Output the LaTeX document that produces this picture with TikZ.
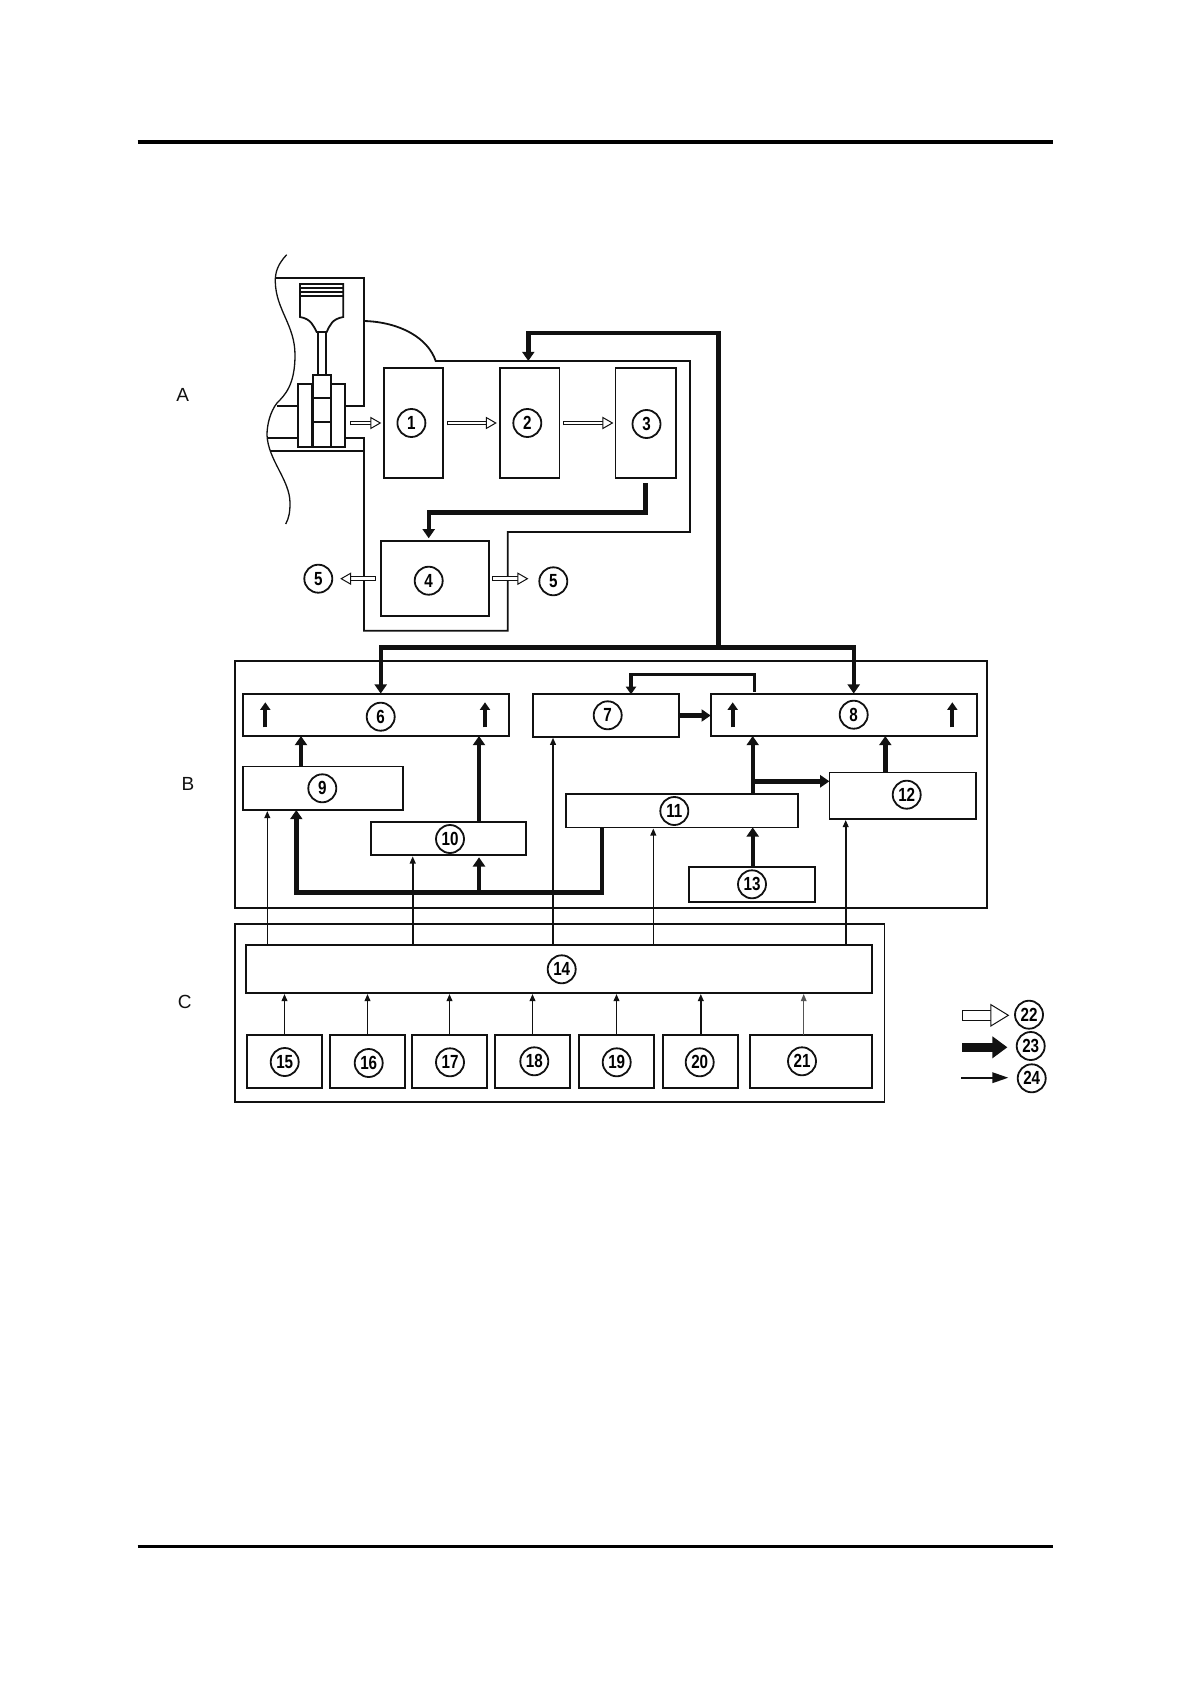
\documentclass[tikz,border=0pt]{standalone}
\usepackage{fontspec}
\setmainfont{Liberation Sans}
\newfontfamily\chiffres[FakeStretch=0.8]{Liberation Sans Bold}
\usepackage{tikz}
\usetikzlibrary{positioning,arrows.meta,calc}
\definecolor{noir}{HTML}{111111}
\definecolor{grisFin}{HTML}{555555}
\tikzset{
  bloc/.style={
    rectangle, draw=noir, line width=0.9pt, fill=white,
    inner sep=0pt, outer sep=0pt},
  cadre/.style={bloc, fill=none},
  rond/.style={
    circle, draw=noir, line width=0.9pt, fill=white, minimum size=14pt,
    inner sep=0pt, font=\chiffres\fontsize{9.5}{9.5}\selectfont},
  lettre/.style={font=\fontsize{9.5}{10}\selectfont, color=noir},
  trait/.style={draw=noir, line width=0.9pt},
  fin/.style={-{Triangle[length=3.6pt,width=2.9pt]}, draw=noir, line width=0.8pt, shorten >=0.5pt},
  finGris/.style={fin, draw=grisFin, line width=0.5pt},
  moyen/.style={-{Triangle[length=3.8pt,width=5pt]}, draw=noir, line width=1.7pt},
  repere/.style={moyen, line width=2pt},
  epais/.style={-{Triangle[length=4.6pt,width=6pt]}, draw=noir, line width=2.2pt},
  creuse/.style={{Bar[width=2.4pt,line width=0.5pt]}-{Triangle[open,length=5.5pt,width=6.2pt,line width=0.5pt,fill=white]},
    draw=noir, line width=0.5pt, double=white, double distance=1.4pt}
}
\begin{document}
\begin{tikzpicture}[x=0.5pt,y=-0.5pt]

  \useasboundingbox (0,0) rectangle (1190,1684);
  \draw[line width=1.8pt, draw=black] (137.5,142.3) -- (1052.5,142.3);
  \draw[line width=1.8pt, draw=black] (137.5,1546.6) -- (1052.5,1546.6);

  % --- Les trois zones
  \node[lettre] (LA) at (182.6,395) {A};
  \node[lettre] (LB) at (188,784) {B};
  \node[lettre] (LC) at (184.7,1002) {C};
  \node[cadre, minimum width=375.8pt, minimum height=123.8pt] (PB) at (610.8,784.5) {};
  \node[cadre, minimum width=324.7pt, minimum height=89.3pt] (PC) at (559.7,1013) {};

  % --- Moteur
  \draw[line width=0.65pt, draw=noir] (286.7,254.7) .. controls (278,264) and (275,272) .. (275.3,282)
        .. controls (276,310) and (295,325) .. (295,355) .. controls (295,385) and (285,395) .. (277,403)
        .. controls (270,412) and (267,425) .. (267,435) .. controls (268,460) and (290,480) .. (290,503)
        .. controls (290,512) and (289,518) .. (285.7,524);
  \draw[trait] (275.5,278) -- (364,278) -- (364,405.7) -- (345,405.7);
  \draw[trait] (277,405.7) -- (297.7,405.7);
  \draw[trait] (268,438) -- (297.7,438);
  \draw[trait] (270,450.7) -- (364,450.7);
  \draw[trait] (345,438) -- (364,438) -- (364,630.7) -- (507.7,630.7) -- (507.7,532)
        -- (690,532) -- (690,361) -- (435.7,361) .. controls (428,338) and (400,322) .. (364,321);
  \draw[trait] (300,284) -- (343.3,284) -- (343.3,317) .. controls (332,319) and (330,325) .. (326.7,332)
        -- (316.7,332) .. controls (313,325) and (311,319) .. (300,317) -- cycle;
  \draw[trait] (300,288) -- (343.3,288);
  \draw[trait] (300,292) -- (343.3,292);
  \draw[trait] (300,296) -- (343.3,296);
  \draw[trait] (317.7,332) -- (317.7,375);
  \draw[trait] (326,332) -- (326,375);
  \draw[trait] (312.7,375) rectangle (331,446.7);
  \draw[trait] (312.7,398.3) -- (331,398.3);
  \draw[trait] (312.7,422.3) -- (331,422.3);
  \draw[trait] (297.7,383.7) rectangle (312.3,446.7);
  \node[cadre, minimum width=7pt, minimum height=31.5pt] (V) at (338,415.2) {};

  % --- Rang A
  \node[bloc, minimum width=29.8pt, minimum height=55.3pt] (B1) at (413.5,423) {};
  \node[bloc, minimum width=29.8pt, minimum height=55.3pt] (B2) at (529.6,423) {};
  \node[bloc, minimum width=30.1pt, minimum height=55.3pt] (B3) at (645.5,423) {};
  \node[bloc, minimum width=54pt, minimum height=37.4pt] (B4) at (435,578.7) {};
  \node[rond] (N1) at (411.4,423) {1};
  \node[rond] (N2) at (527.3,423) {2};
  \node[rond] (N3) at (646.5,424) {3};
  \node[rond] (N4) at (428.7,580.7) {4};
  \node[rond] (N5a) at (318.3,578.7) {5};
  \node[rond] (N5b) at (553.3,581.3) {5};

  % --- Rang B
  \node[bloc, minimum width=133.3pt, minimum height=21.2pt] (B6) at (376,714.8) {};
  \node[bloc, minimum width=73pt, minimum height=21.2pt] (B7) at (606.3,715.5) {};
  \node[bloc, minimum width=133pt, minimum height=21.2pt] (B8) at (843.7,714.8) {};
  \node[bloc, minimum width=80.3pt, minimum height=21.8pt] (B9) at (323,788.2) {};
  \node[bloc, minimum width=77.6pt, minimum height=16.8pt] (B10) at (448.3,838.5) {};
  \node[bloc, minimum width=115.8pt, minimum height=16.7pt] (B11) at (681.8,810.7) {};
  \node[bloc, minimum width=73.3pt, minimum height=23.3pt] (B12) at (902.7,795.7) {};
  \node[bloc, minimum width=63pt, minimum height=17.2pt] (B13) at (752,884.5) {};
  \node[rond] (N6) at (380.7,716.7) {6};
  \node[rond] (N7) at (607.7,715.3) {7};
  \node[rond] (N8) at (853.7,714.7) {8};
  \node[rond] (N9) at (322.3,788.3) {9};
  \node[rond] (N10) at (450,839) {10};
  \node[rond] (N11) at (674.3,811) {11};
  \node[rond] (N12) at (906.7,794.7) {12};
  \node[rond] (N13) at (752,884.3) {13};

  % --- Rang C
  \node[bloc, minimum width=313pt, minimum height=24.2pt] (B14) at (559.3,968.8) {};
  \node[bloc, minimum width=37.5pt, minimum height=26.7pt] (B15) at (284.5,1061.3) {};
  \node[bloc, minimum width=37.5pt, minimum height=26.7pt] (B16) at (367.5,1061.3) {};
  \node[bloc, minimum width=37.5pt, minimum height=26.7pt] (B17) at (449.5,1061.3) {};
  \node[bloc, minimum width=37.5pt, minimum height=26.7pt] (B18) at (532.5,1061.3) {};
  \node[bloc, minimum width=37.5pt, minimum height=26.7pt] (B19) at (616.5,1061.3) {};
  \node[bloc, minimum width=37.5pt, minimum height=26.7pt] (B20) at (700.8,1061.3) {};
  \node[bloc, minimum width=61.3pt, minimum height=26.7pt] (B21) at (811,1061.3) {};
  \node[rond] (N14) at (561.7,969.3) {14};
  \node[rond] (N15) at (284.7,1062) {15};
  \node[rond] (N16) at (368.7,1063) {16};
  \node[rond] (N17) at (450,1062.3) {17};
  \node[rond] (N18) at (534.3,1061.3) {18};
  \node[rond] (N19) at (616.7,1062.3) {19};
  \node[rond] (N20) at (699.7,1062.3) {20};
  \node[rond] (N21) at (802,1061.3) {21};

  % --- Legende
  \node[rond] (N22) at (1029,1014.7) {22};
  \node[rond] (N23) at (1030.7,1046) {23};
  \node[rond] (N24) at (1031.7,1078.3) {24};
  \coordinate (L22) at (961.7,1015.3);
  \coordinate (L23) at (962.3,1047.3);
  \coordinate (L24) at (961,1077.7);
  \draw[creuse, double distance=4.6pt, {Bar[width=5.6pt,line width=0.5pt]}-{Triangle[open,length=9.5pt,width=11.5pt,line width=0.5pt,fill=white]}, shorten >=2.4pt] (L22) -- (L22 -| N22.west);
  \draw[-{Triangle[length=7.5pt,width=10.5pt]}, draw=noir, line width=4.4pt, shorten >=4.2pt] (L23) -- (L23 -| N23.west);
  \draw[-{Triangle[length=8pt,width=5.2pt]}, draw=noir, line width=1pt, shorten >=4.2pt] (L24) -- (L24 -| N24.west);

  % --- Reperes des liaisons
  \coordinate (xa) at (267.3,0);
  \coordinate (xb) at (412.7,0);
  \coordinate (xc) at (553,0);
  \coordinate (xd) at (653.3,0);
  \coordinate (xe) at (845.7,0);
  \coordinate (xf) at (803.7,0);
  \coordinate (xg) at (301,0);
  \coordinate (xh) at (479,0);
  \coordinate (xk) at (296.3,0);
  \coordinate (xj) at (602,0);
  \coordinate (xm) at (752.7,0);
  \coordinate (xn) at (885.3,0);
  \coordinate (xp) at (754.3,0);
  \coordinate (xq) at (631,0);
  \coordinate (xs) at (718.3,0);
  \coordinate (bus) at (0,892.3);
  \coordinate (branche) at (0,781.3);
  \coordinate (retour) at (0,674.3);
  \coordinate (ligne) at (0,647.3);
  \coordinate (haut) at (0,333);
  \coordinate (coude) at (0,512.3);
  \coordinate (entreeA) at (528.3,361);
  \coordinate (a6g) at (265.3,727.3);
  \coordinate (a6d) at (485,727.3);
  \coordinate (a8g) at (732.7,727.3);
  \coordinate (a8d) at (952.3,727.3);

  % --- Flux creux
  \draw[creuse, shorten <=2.5pt, shorten >=1.2pt] (V.east |- N1) -- (B1.west |- N1);
  \draw[creuse, shorten <=1.6pt, shorten >=1.5pt] (B1.east) -- (B2.west);
  \draw[creuse, shorten <=1.6pt, shorten >=1pt] (B2.east) -- (B3.west);
  \draw[creuse, shorten <=2.5pt, shorten >=3.5pt] (B4.west) -- (N5a.east);
  \draw[creuse, shorten <=1.6pt, shorten >=5pt] (B4.east) -- (B4.east -| N5b.west);

  % --- Flux epais
  \draw[epais, shorten <=2.5pt, shorten >=1.5pt] (B3.south) -- (B3.south |- coude) -- (N4 |- coude) -- (N4 |- B4.north);
  \draw[epais] (xs |- ligne) -- (xs |- haut) -- (haut -| entreeA) -- (entreeA);
  \draw[epais] (xs |- ligne) -- (ligne -| N6) -- (N6 |- B6.north);
  \draw[epais] (xs |- ligne) -- (ligne -| N8) -- (N8 |- B8.north);
  \draw[epais] (xg |- B9.north) -- (xg |- B6.south);
  \draw[epais] (xh |- B10.north) -- (xh |- B6.south);
  \draw[epais] (xj |- B11.south) -- (xj |- bus) -- (xk |- bus) -- (xk |- B9.south);
  \draw[epais, shorten >=1pt] (xh |- bus) -- (xh |- B10.south);
  \draw[epais] (xm |- B11.north) -- (xm |- B8.south);
  \draw[epais] (xm |- branche) -- (B12.west |- branche);
  \draw[epais] (xn |- B12.north) -- (xn |- B8.south);
  \draw[epais] (xm |- B13.north) -- (xm |- B11.south);
  \draw[epais] (B7.east) -- (B7.east -| B8.west);
  \draw[moyen, shorten <=1pt] (xp |- B8.north) -- (xp |- retour) -- (xq |- retour) -- (xq |- B7.north);
  \draw[repere] (a6g) -- ++(0,-25);
  \draw[repere] (a6d) -- ++(0,-25);
  \draw[repere] (a8g) -- ++(0,-25);
  \draw[repere] (a8d) -- ++(0,-25);

  % --- Flux fins
  \draw[fin] (xa |- B14.north) -- (xa |- B9.south);
  \draw[fin] (xb |- B14.north) -- (xb |- B10.south);
  \draw[fin] (xc |- B14.north) -- (xc |- B7.south);
  \draw[fin] (xd |- B14.north) -- (xd |- B11.south);
  \draw[fin] (xe |- B14.north) -- (xe |- B12.south);
  \draw[fin] (B15.north) -- (B15.north |- B14.south);
  \draw[fin] (B16.north) -- (B16.north |- B14.south);
  \draw[fin] (B17.north) -- (B17.north |- B14.south);
  \draw[fin] (B18.north) -- (B18.north |- B14.south);
  \draw[fin] (B19.north) -- (B19.north |- B14.south);
  \draw[fin] (B20.north) -- (B20.north |- B14.south);
  \draw[finGris] (xf |- B21.north) -- (xf |- B14.south);

\end{tikzpicture}
\end{document}
